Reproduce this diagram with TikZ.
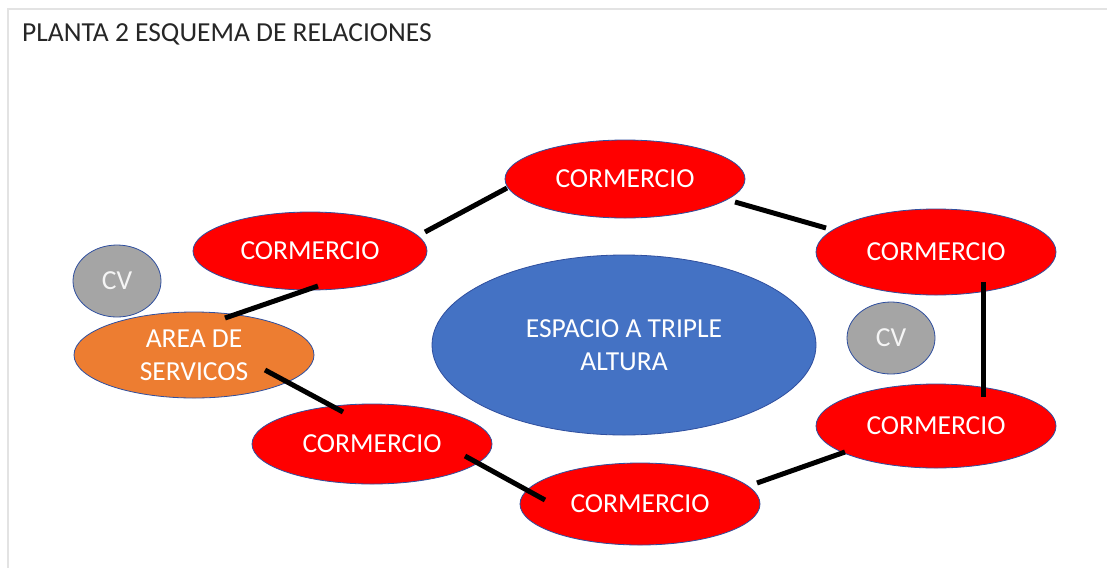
\documentclass[tikz,border=0pt]{standalone}
\usepackage{fontspec}
\setmainfont{Carlito}
\usetikzlibrary{shapes.geometric,calc}
\definecolor{redfill}{HTML}{FF0000}
\definecolor{bluefill}{HTML}{4472C4}
\definecolor{orangefill}{HTML}{ED7D31}
\definecolor{grayfill}{HTML}{A5A5A5}
\definecolor{rim}{HTML}{2F4F9F}
\definecolor{framecol}{HTML}{E3E3E3}
\tikzset{
  blob/.style={ellipse, draw=rim, line width=0.8pt, inner sep=0pt, text=white, align=center, font=\fontsize{27.5}{33}\selectfont},
  shop/.style={blob, fill=redfill, minimum width=240pt, minimum height=80pt},
  cvnode/.style={blob, fill=grayfill, minimum width=88pt, minimum height=72pt, text=white!92!gray},
  link/.style={line width=5pt, black}
}
\begin{document}
\begin{tikzpicture}[x=1pt,y=-1pt]
\useasboundingbox (0,0) rectangle (1107,568);
\fill[white] (0,0) rectangle (1107,568);
\draw[framecol, line width=1.5pt] (8,568) -- (8,9) -- (1107,9);
\node[anchor=west, font=\fontsize{27.5}{33}\selectfont, inner sep=0pt, text=black!85] (title) at (22,34) {PLANTA 2 ESQUEMA DE RELACIONES};

\node[blob, fill=bluefill, minimum width=384pt, minimum height=180pt] (esp) at (624,345) {ESPACIO A TRIPLE\\ALTURA};
\node[shop, minimum height=78pt] (ct) at (625,179) {CORMERCIO};
\node[shop, minimum width=234pt, minimum height=78pt] (ctl) at (310,251) {CORMERCIO};
\node[shop, minimum height=86pt] (crt) at (936,252) {CORMERCIO};
\node[shop, minimum height=84pt] (crb) at (936,426) {CORMERCIO};
\node[shop] (cbl) at (372,444) {CORMERCIO};
\node[shop, minimum height=82pt] (cb) at (640,504) {CORMERCIO};
\node[blob, fill=orangefill, minimum width=240pt, minimum height=86pt] (area) at (194,355) {AREA DE\\SERVICOS};
\node[cvnode] (cvl) at (117,281) {CV};
\node[cvnode] (cvr) at (891,338) {CV};

\draw[link] ($(ctl)+(115,-19)$) -- ($(ct)+(-118,9)$);
\draw[link] ($(ct)+(110,23)$) -- ($(crt)+(-110,-24)$);
\draw[link] ($(crt)+(47,30)$) -- ($(crb)+(47,-29)$);
\draw[link] ($(crb)+(-91,26)$) -- ($(cb)+(117,-21)$);
\draw[link] ($(cb)+(-95,-4)$) -- ($(cbl)+(93,12)$);
\draw[link] ($(cbl)+(-29,-32)$) -- ($(area)+(71,15)$);
\draw[link] ($(area)+(31,-37)$) -- ($(ctl)+(8,35)$);
\end{tikzpicture}
\end{document}
